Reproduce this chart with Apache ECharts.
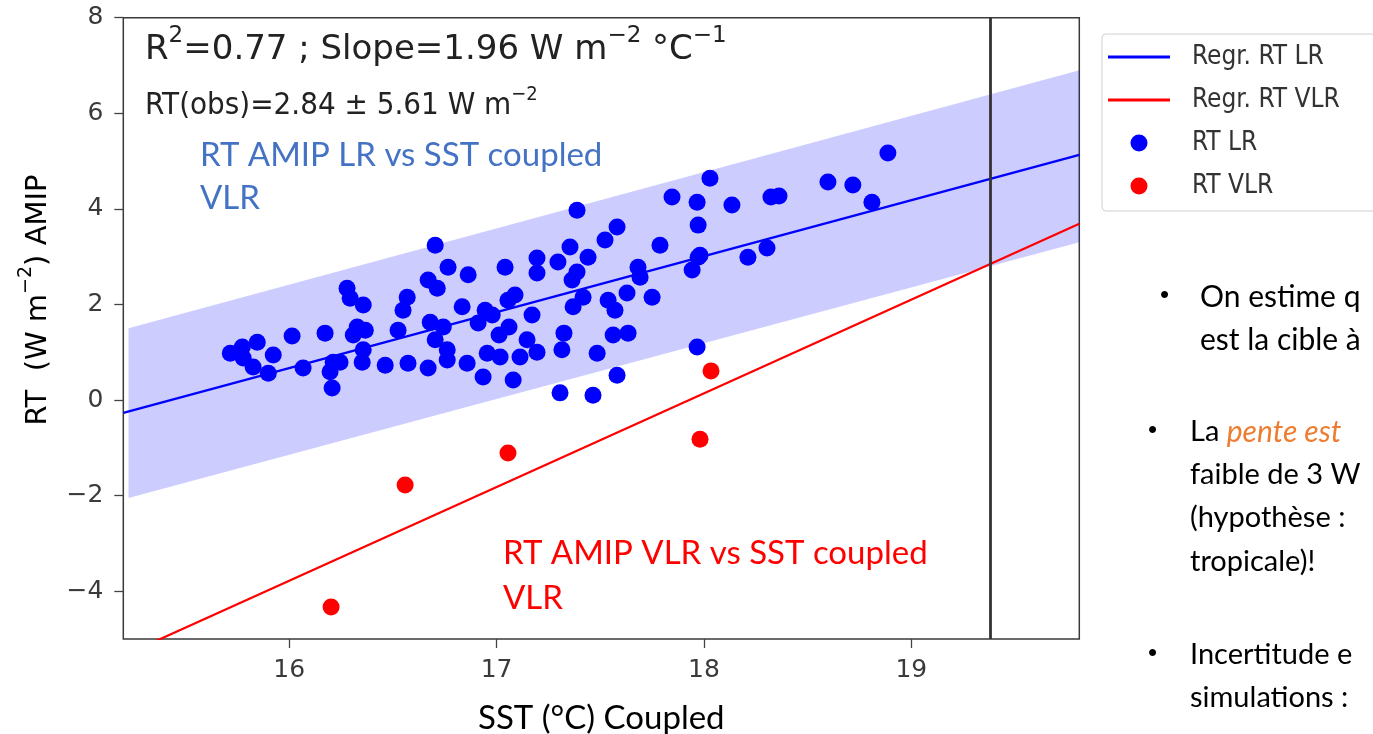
<!DOCTYPE html>
<html>
<head>
<meta charset="utf-8">
<script src="https://cdn.jsdelivr.net/npm/echarts@6/dist/echarts.min.js"></script>
<style>
html,body{margin:0;padding:0;background:#fff;}
#chart{width:1373px;height:734px;}
</style>
</head>
<body>
<div id="chart"></div>
<script>
// ---- data ----
const xTicks = [16, 17, 18, 19];
const yTicks = [-4, -2, 0, 2, 4, 6, 8];

const rtLR = [
  [15.716,0.98],[15.774,1.11],[15.846,1.21],[15.778,0.88],[15.826,0.69],[15.923,0.94],
  [15.899,0.56],[16.014,1.34],[16.067,0.67],[16.173,1.40],[16.212,0.79],[16.197,0.59],
  [16.207,0.25],[16.245,0.79],[16.279,2.34],[16.294,2.13],[16.357,1.99],[16.328,1.53],
  [16.309,1.36],[16.367,1.46],[16.357,1.05],[16.352,0.79],[16.463,0.73],[16.525,1.46],
  [16.569,2.15],[16.549,1.88],[16.573,0.77],[16.704,3.24],[16.766,2.78],[16.863,2.62],
  [16.670,2.51],[16.714,2.34],[17.041,2.78],[17.195,2.97],[17.195,2.66],[17.296,2.89],
  [17.354,3.20],[17.388,3.97],[17.364,2.51],[17.369,1.95],[16.834,1.95],[16.945,1.88],
  [17.089,2.20],[17.055,2.09],[17.171,1.78],[16.680,1.63],[16.743,1.53],[16.911,1.61],
  [16.979,1.78],[16.704,1.26],[16.762,1.05],[17.012,1.36],[17.060,1.53],[17.147,1.26],
  [17.195,1.00],[17.325,1.40],[17.315,1.05],[16.670,0.67],[16.762,0.84],[16.858,0.77],
  [16.955,0.98],[16.935,0.48],[17.017,0.90],[17.080,0.42],[17.113,0.90],[17.306,0.15],
  [17.967,4.14],[17.972,3.66],[17.788,3.24],[17.581,3.62],[17.523,3.35],[17.441,2.99],
  [17.388,2.68],[17.682,2.78],[17.692,2.57],[17.972,2.99],[17.943,2.72],[17.417,2.15],
  [17.538,2.09],[17.571,1.88],[17.629,2.24],[17.750,2.15],[17.562,1.36],[17.634,1.40],
  [17.485,0.98],[17.967,1.11],[17.581,0.52],[17.465,0.10],[18.887,5.17],[18.598,4.56],
  [18.718,4.50],[18.810,4.14],[18.323,4.25],[18.362,4.27],[18.029,4.64],[17.846,4.25],
  [18.135,4.08],[17.981,3.03],[18.212,2.99],[18.304,3.18]
];
const rtVLR = [[16.202,-4.33],[16.559,-1.78],[17.055,-1.11],[17.981,-0.82],[18.034,0.61]];

const regrLR = [[15.2,-0.27],[19.81,5.13]];
const regrVLR = [[15.2,-5.35],[19.81,3.69]];
const bandX = [15.225, 19.81];
const bandLow = [-2.05, 3.30];
const bandHigh = [1.50, 6.90];
const obsSST = 19.38;

const bandData = bandX.map((x, i) => [x, bandLow[i], bandHigh[i]]);

const chart = echarts.init(document.getElementById('chart'), null, {renderer: 'canvas'});
const tickFont = '"DejaVu Sans", sans-serif';
const condFont = '"DejaVu Sans Condensed", "Liberation Sans Narrow", "DejaVu Sans", sans-serif';
const slideFont = 'Lato, "Open Sans", sans-serif';
const minus = v => String(v).replace('-', '\u2212');

const supRich = (size, supSize, font, lh, color) => ({
  m: {fontFamily: font, fontSize: size, lineHeight: lh, verticalAlign: 'bottom', fill: color, color: color},
  s: {fontFamily: font, fontSize: supSize, lineHeight: supSize, verticalAlign: 'top', fill: color, color: color}
});

const option = {
  backgroundColor: '#ffffff',
  animation: false,
  grid: {left: 123.3, right: 293.7, top: 17.7, bottom: 95, show: true, containLabel: false,
         outerBoundsMode: 'none',
         borderColor: '#3a3a3a', borderWidth: 1.5, backgroundColor: 'transparent'},
  xAxis: {
    type: 'value', min: 15.2, max: 19.81,
    name: 'SST (°C) Coupled', nameLocation: 'middle', nameGap: 79,
    nameTextStyle: {fontFamily: slideFont, fontSize: 33, color: '#000', verticalAlign: 'middle'},
    axisLine: {show: false, onZero: false},
    axisTick: {show: true, customValues: xTicks, length: 9, lineStyle: {color: '#444', width: 1.3}},
    axisLabel: {customValues: xTicks, fontFamily: tickFont, fontSize: 25, color: '#3a3a3a', margin: 19},
    splitLine: {show: false}
  },
  yAxis: {
    type: 'value', min: -5, max: 8,
    axisLine: {show: false, onZero: false},
    axisTick: {show: true, customValues: yTicks, length: 9, lineStyle: {color: '#444', width: 1.3}},
    axisLabel: {customValues: yTicks, fontFamily: tickFont, fontSize: 25, color: '#3a3a3a', margin: 20,
                formatter: minus},
    splitLine: {show: false}
  },
  legend: {
    orient: 'vertical', left: 1102, top: 34,
    data: [
      {name: 'Regr. RT LR', icon: 'path://M0,0L62,0L62,3L0,3Z'},
      {name: 'Regr. RT VLR', icon: 'path://M0,0L62,0L62,3L0,3Z'},
      {name: 'RT LR', icon: 'circle'},
      {name: 'RT VLR', icon: 'circle'}
    ],
    itemWidth: 62, itemHeight: 17, itemGap: 13,
    textStyle: {fontFamily: condFont, fontSize: 26, lineHeight: 30, color: '#333', padding: [0, 0, 0, 17]},
    padding: [8, 40, 10, 6], borderColor: '#d0d0d0', borderWidth: 1, borderRadius: 4,
    backgroundColor: '#fff'
  },
  series: [
    {
      type: 'custom', name: 'band', silent: true, z: 1,
      data: bandData,
      renderItem: function (params, api) {
        if (params.dataIndex !== 0) return;
        const n = bandData.length;
        const pts = [];
        for (let i = 0; i < n; i++) pts.push(api.coord([api.value(0, i), api.value(2, i)]));
        for (let i = n - 1; i >= 0; i--) pts.push(api.coord([api.value(0, i), api.value(1, i)]));
        return {type: 'polygon', shape: {points: pts}, style: {fill: 'rgba(0,0,255,0.2)', stroke: 'none'}};
      }
    },
    {
      type: 'line', name: 'Regr. RT LR', data: regrLR, showSymbol: false, symbol: 'none',
      color: '#0000ff', lineStyle: {color: '#0000ff', width: 2.3}, z: 2,
      markLine: {silent: true, symbol: 'none', label: {show: false},
                 lineStyle: {color: '#333', width: 2.8, type: 'solid'},
                 data: [{xAxis: obsSST}]}
    },
    {
      type: 'line', name: 'Regr. RT VLR', data: regrVLR, showSymbol: false, symbol: 'none',
      color: '#ff0000', lineStyle: {color: '#ff0000', width: 2.2}, z: 2
    },
    {
      type: 'scatter', name: 'RT LR', data: rtLR, symbolSize: 17,
      itemStyle: {color: '#0000ff', opacity: 1}, z: 3
    },
    {
      type: 'scatter', name: 'RT VLR', data: rtVLR, symbolSize: 17,
      itemStyle: {color: '#ff0000', opacity: 1}, z: 3
    }
  ],
  graphic: [
    {type: 'text', x: 145, y: 46, z: 10, style: {
      text: '{m|R}{s|2}{m|=0.77 ; Slope=1.96 W m}{s|\u22122}{m| \u00B0C}{s|\u22121}',
      verticalAlign: 'middle', rich: supRich(34, 23, tickFont, 42, '#222')}},
    {type: 'text', x: 145, y: 103, z: 10, style: {
      text: '{m|RT(obs)=2.84 \u00B1 5.61 W m}{s|\u22122}',
      verticalAlign: 'middle', rich: supRich(31, 20, condFont, 36, '#222')}},
    {type: 'text', x: 35, y: 300, z: 10, rotation: Math.PI / 2, style: {
      text: '{m|RT  (W m}{s|\u22122}{m|) AMIP}', align: 'center',
      verticalAlign: 'middle', rich: supRich(29, 19, tickFont, 36, '#000')}},
    {type: 'text', x: 200, y: 155, z: 10, style: {text: 'RT AMIP LR vs SST coupled',
      fontFamily: slideFont, fontSize: 33, fill: '#4472C4', verticalAlign: 'middle'}},
    {type: 'text', x: 200, y: 198, z: 10, style: {text: 'VLR',
      fontFamily: slideFont, fontSize: 33, fill: '#4472C4', verticalAlign: 'middle'}},
    {type: 'text', x: 503, y: 553, z: 10, style: {text: 'RT AMIP VLR vs SST coupled',
      fontFamily: slideFont, fontSize: 33, fill: '#ff0000', verticalAlign: 'middle'}},
    {type: 'text', x: 503, y: 598, z: 10, style: {text: 'VLR',
      fontFamily: slideFont, fontSize: 33, fill: '#ff0000', verticalAlign: 'middle'}},

    {type: 'text', x: 1160, y: 296, style: {text: '\u2022', fontFamily: 'Arial, sans-serif', fontSize: 26, fill: '#000', verticalAlign: 'middle'}},
    {type: 'text', x: 1200, y: 297, style: {text: 'On estime q', fontFamily: slideFont, fontSize: 30, fill: '#000', verticalAlign: 'middle'}},
    {type: 'text', x: 1200, y: 340, style: {text: 'est la cible \u00E0', fontFamily: slideFont, fontSize: 30, fill: '#000', verticalAlign: 'middle'}},

    {type: 'text', x: 1148, y: 431, style: {text: '\u2022', fontFamily: 'Arial, sans-serif', fontSize: 26, fill: '#000', verticalAlign: 'middle'}},
    {type: 'text', x: 1190, y: 432, style: {text: '{a|La }{o|pente est}', verticalAlign: 'middle',
      rich: {a: {fontFamily: slideFont, fontSize: 29, fill: '#000'}, o: {fontFamily: slideFont, fontSize: 30, fontStyle: 'italic', fill: '#ED7D31'}}}},
    {type: 'text', x: 1190, y: 475, style: {text: 'faible de 3 W', fontFamily: slideFont, fontSize: 29, fill: '#000', verticalAlign: 'middle'}},
    {type: 'text', x: 1190, y: 518, style: {text: '(hypoth\u00E8se :', fontFamily: slideFont, fontSize: 29, fill: '#000', verticalAlign: 'middle'}},
    {type: 'text', x: 1190, y: 562, style: {text: 'tropicale)!', fontFamily: slideFont, fontSize: 29, fill: '#000', verticalAlign: 'middle'}},

    {type: 'text', x: 1148, y: 654, style: {text: '\u2022', fontFamily: 'Arial, sans-serif', fontSize: 26, fill: '#000', verticalAlign: 'middle'}},
    {type: 'text', x: 1190, y: 655, style: {text: 'Incertitude e', fontFamily: slideFont, fontSize: 29, fill: '#000', verticalAlign: 'middle'}},
    {type: 'text', x: 1190, y: 698, style: {text: 'simulations :', fontFamily: slideFont, fontSize: 29, fill: '#000', verticalAlign: 'middle'}}
  ]
};
chart.setOption(option);
</script>
</body>
</html>
